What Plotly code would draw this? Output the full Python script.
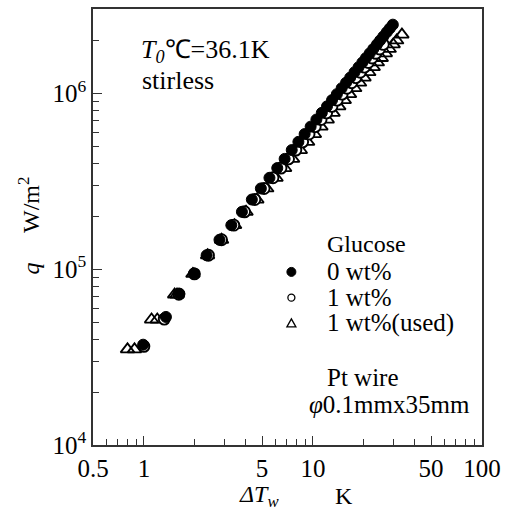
import plotly.graph_objects as go

# ---- data ----
dT_0wt = [0.99, 1.35, 1.62, 1.98, 2.35, 2.80, 3.29, 3.80, 4.35, 4.92, 5.53, 6.15, 6.80, 7.49,
          8.20, 8.93, 9.69, 10.48, 11.28, 12.11, 12.97, 13.85, 14.78, 15.70, 16.61, 17.62,
          18.62, 19.61, 20.59, 21.67, 22.75, 23.91, 24.96, 26.10, 27.34, 28.47, 29.69]
q_0wt = [3.72e4, 5.35e4, 7.26e4, 9.46e4, 1.20e5, 1.47e5, 1.78e5, 2.12e5, 2.49e5, 2.88e5,
         3.31e5, 3.76e5, 4.24e5, 4.76e5, 5.30e5, 5.87e5, 6.47e5, 7.10e5, 7.75e5, 8.44e5,
         9.16e5, 9.90e5, 1.07e6, 1.15e6, 1.23e6, 1.32e6, 1.41e6, 1.50e6, 1.59e6, 1.69e6,
         1.79e6, 1.90e6, 2.00e6, 2.11e6, 2.23e6, 2.34e6, 2.46e6]

dT_1wt = [1.00, 1.32, 1.61, 1.99, 2.41, 2.88, 3.40, 3.94, 4.53, 5.14, 5.80, 6.47, 7.17, 7.92,
          8.69, 9.48, 10.31, 11.17, 12.05, 12.96, 13.91, 14.88, 15.90, 16.92, 17.93, 19.05,
          20.16, 21.26, 22.35, 23.56, 24.76, 26.06]
q_1wt = [3.64e4, 5.20e4, 7.20e4, 9.40e4, 1.20e5, 1.47e5, 1.78e5, 2.12e5, 2.49e5, 2.88e5,
         3.31e5, 3.76e5, 4.24e5, 4.76e5, 5.30e5, 5.87e5, 6.47e5, 7.10e5, 7.75e5, 8.44e5,
         9.16e5, 9.90e5, 1.07e6, 1.15e6, 1.23e6, 1.32e6, 1.41e6, 1.50e6, 1.59e6, 1.69e6,
         1.79e6, 1.90e6]

dT_used = [0.80, 0.88, 1.11, 1.20, 1.52, 1.57, 1.95, 2.38, 2.88, 3.44, 4.02, 4.66, 5.33, 6.05,
           6.80, 7.58, 8.42, 9.30, 10.20, 11.15, 12.15, 13.16, 14.22, 15.32, 16.46, 17.67,
           18.87, 20.06, 21.40, 22.73, 24.05, 25.36, 26.81, 28.27, 29.84, 31.28, 33.60]
q_used = [3.50e4, 3.50e4, 5.17e4, 5.17e4, 7.18e4, 7.18e4, 9.40e4, 1.20e5, 1.47e5, 1.78e5,
          2.12e5, 2.49e5, 2.88e5, 3.31e5, 3.76e5, 4.24e5, 4.76e5, 5.30e5, 5.87e5, 6.47e5,
          7.10e5, 7.75e5, 8.44e5, 9.16e5, 9.90e5, 1.07e6, 1.15e6, 1.23e6, 1.32e6, 1.41e6,
          1.50e6, 1.59e6, 1.69e6, 1.79e6, 1.90e6, 2.00e6, 2.16e6]

series_names = ["0 wt%", "1 wt%", "1 wt%(used)"]

x_major = [0.5, 1, 5, 10, 50, 100]
x_major_text = ["0.5", "1", "5", "10", "50", "100"]
x_minor = [0.6, 0.7, 0.8, 0.9, 2, 3, 4, 6, 7, 8, 9, 20, 30, 40, 60, 70, 80, 90]
y_major = [1e4, 1e5, 1e6]
y_major_text = ["10<sup>4</sup>", "10<sup>5</sup>", "10<sup>6</sup>"]
y_minor = [2e4, 3e4, 4e4, 5e4, 6e4, 7e4, 8e4, 9e4, 2e5, 3e5, 4e5, 5e5, 6e5, 7e5, 8e5, 9e5, 2e6]

FONT = "Liberation Serif"
AX = "#333333"

fig = go.Figure()
fig.add_trace(go.Scatter(x=dT_used, y=q_used, mode="markers", showlegend=False,
                         marker=dict(symbol="triangle-up-open", size=12, color="black",
                                     line=dict(width=1.8, color="black"))))
fig.add_trace(go.Scatter(x=dT_1wt, y=q_1wt, mode="markers", showlegend=False,
                         marker=dict(symbol="circle", size=11, color="white",
                                     line=dict(width=1.9, color="black"))))
fig.add_trace(go.Scatter(x=dT_0wt, y=q_0wt, mode="markers", showlegend=False,
                         marker=dict(symbol="circle", size=11, color="black",
                                     line=dict(width=1, color="black"))))

fig.update_layout(
    width=508, height=511,
    margin=dict(l=93, r=21, t=7, b=66),
    paper_bgcolor="white", plot_bgcolor="white",
    font=dict(family=FONT, size=24, color="black"),
    showlegend=False,
    xaxis=dict(type="log", range=[-0.30103, 2], showgrid=False, zeroline=False,
               showline=True, linecolor=AX, linewidth=1.5, mirror=True,
               ticks="inside", ticklen=9, tickwidth=1.2, tickcolor=AX,
               tickvals=x_major, ticktext=x_major_text,
               tickfont=dict(size=25),
               minor=dict(tickvals=x_minor, ticks="inside", ticklen=6, tickwidth=1.2,
                          tickcolor=AX, showgrid=False)),
    yaxis=dict(type="log", range=[4, 6.48], showgrid=False, zeroline=False,
               showline=True, linecolor=AX, linewidth=1.5, mirror=True,
               ticks="inside", ticklen=9, tickwidth=1.2, tickcolor=AX,
               tickvals=y_major, ticktext=y_major_text,
               tickfont=dict(size=25),
               minor=dict(tickvals=y_minor, ticks="inside", ticklen=6, tickwidth=1.2,
                          tickcolor=AX, showgrid=False)),
)

def note(text, x, y, size=24, anchor="left", angle=0):
    fig.add_annotation(xref="paper", yref="paper", x=x, y=y, xanchor=anchor,
                       yanchor="middle", showarrow=False, textangle=angle,
                       text=text, font=dict(size=size))

# axis titles
note("W/m<sup>2</sup>", -0.165, 0.55, anchor="center", angle=-90)
note("<i>q</i>", -0.16, 0.404, anchor="center", angle=-90)
note("<i>ΔT<sub>w</sub></i>", 0.426, -0.116, anchor="center")
note("K", 0.645, -0.116, anchor="center")

# condition texts
note("<i>T<sub>0</sub></i>℃=36.1K", 0.118, 0.903, size=26)
note("stirless", 0.122, 0.835, size=26)

# legend block
note("Glucose", 0.597, 0.461, size=24)
leg_y = [0.397, 0.338, 0.279]
for name, yy in zip(series_names, leg_y):
    note(name, 0.597, yy, size=25)
mx = 0.510
fig.add_shape(type="circle", xref="paper", yref="paper", xsizemode="pixel", ysizemode="pixel",
              xanchor=mx, yanchor=leg_y[0], x0=-4.5, x1=4.5, y0=-4.5, y1=4.5,
              fillcolor="black", line=dict(color="black", width=1))
fig.add_shape(type="circle", xref="paper", yref="paper", xsizemode="pixel", ysizemode="pixel",
              xanchor=mx, yanchor=leg_y[1], x0=-3.5, x1=3.5, y0=-3.5, y1=3.5,
              fillcolor="white", line=dict(color="black", width=1.3))
fig.add_shape(type="path", xref="paper", yref="paper", xsizemode="pixel", ysizemode="pixel",
              xanchor=mx, yanchor=leg_y[2], path="M-4.5,-3.5 L4.5,-3.5 L0,4.5 Z",
              fillcolor="white", line=dict(color="black", width=1.3))

note("Pt wire", 0.597, 0.155, size=25)
note("<i>φ</i>0.1mmx35mm", 0.551, 0.094, size=25)

fig.write_html("out.html", config={"displayModeBar": False},
               post_script="document.body.style.margin='0';")
